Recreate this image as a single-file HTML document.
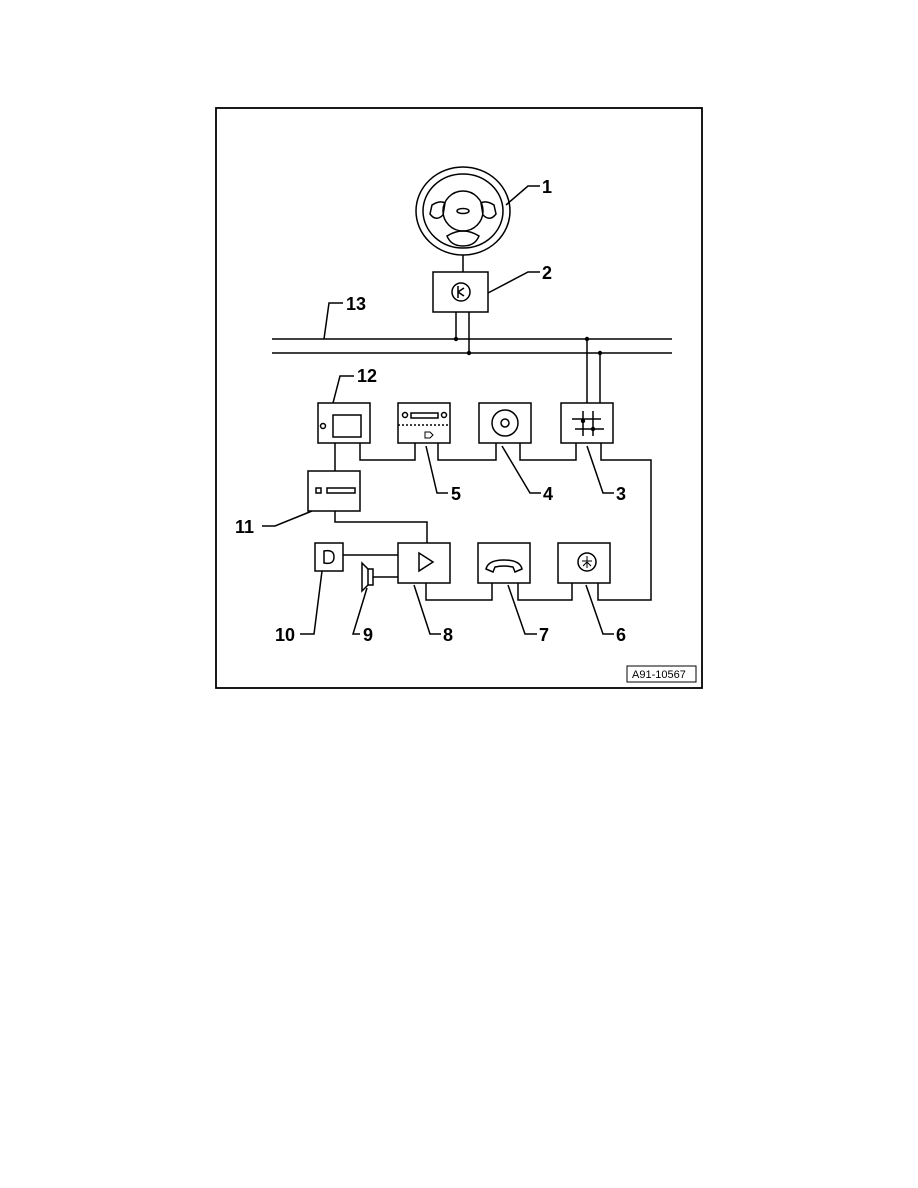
<!DOCTYPE html>
<html><head><style>body{margin:0;background:#fff}svg{display:block}</style></head><body>
<svg width="918" height="1188" viewBox="0 0 918 1188" xmlns="http://www.w3.org/2000/svg" font-family="Liberation Sans, sans-serif">
<g fill="none" stroke="#000" stroke-width="1.5">
<rect x="216" y="108" width="486" height="580" stroke-width="1.8"/>
<ellipse cx="463" cy="211" rx="47" ry="44"/>
<ellipse cx="463" cy="211" rx="40" ry="37"/>
<circle cx="463" cy="211" r="20"/>
<path d="M432 205 Q440 200 445 203 L443 215 Q436 222 430 214 Z"/>
<path d="M494 205 Q486 200 481 203 L483 215 Q490 222 496 214 Z"/>
<path d="M447 236 Q463 226 479 236 Q475 246 463 246 Q451 246 447 236 Z"/>
<ellipse cx="463" cy="211" rx="6" ry="2.5"/>
<line x1="463" y1="255" x2="463" y2="272"/>
<rect x="433" y="272" width="55" height="40"/>
<circle cx="461" cy="292" r="9"/>
<path d="M458 286 V298 M458 292 L464 288 M458 292 L464 296"/>
<line x1="456" y1="312" x2="456" y2="339"/>
<line x1="469" y1="312" x2="469" y2="353"/>
<line x1="272" y1="339" x2="672" y2="339"/>
<line x1="272" y1="353" x2="672" y2="353"/>
<line x1="587" y1="339" x2="587" y2="403"/>
<line x1="600" y1="353" x2="600" y2="403"/>
<rect x="318" y="403" width="52" height="40"/>
<rect x="333" y="415" width="28" height="22"/>
<circle cx="323" cy="426" r="2.5"/>
<rect x="398" y="403" width="52" height="40"/>
<rect x="411" y="413" width="27" height="5"/>
<circle cx="405" cy="415" r="2.5"/><circle cx="444" cy="415" r="2.5"/>
<line x1="398" y1="425" x2="450" y2="425" stroke-dasharray="2,2"/>
<path d="M425 432 h5 l3 3 l-3 3 h-5 z" stroke-width="1"/>
<rect x="479" y="403" width="52" height="40"/>
<circle cx="505" cy="423" r="13"/><circle cx="505" cy="423" r="4"/>
<rect x="561" y="403" width="52" height="40"/>
<path d="M583 411 V436 M593 411 V436 M572 419 H601 M575 429 H604"/>
<polyline points="360,443 360,460 415,460 415,443"/>
<polyline points="438,443 438,460 496,460 496,443"/>
<polyline points="520,443 520,460 576,460 576,443"/>
<polyline points="601,443 601,460 651,460 651,600 598,600 598,583"/>
<line x1="335" y1="443" x2="335" y2="471"/>
<rect x="308" y="471" width="52" height="40"/>
<rect x="316" y="488" width="5" height="5"/>
<rect x="327" y="488" width="28" height="5"/>
<polyline points="335,511 335,522 427,522 427,543"/>
<rect x="398" y="543" width="52" height="40"/>
<path d="M419 553 L433 562 L419 571 Z"/>
<rect x="478" y="543" width="52" height="40"/>
<path d="M486 569 Q488 560 504 560 Q520 560 522 569 L515 572 L513 567 Q504 565 495 567 L493 572 Z"/>
<rect x="558" y="543" width="52" height="40"/>
<circle cx="587" cy="562" r="9"/>
<path d="M587 556 V568 M582 561 L592 561 M587 562 L583 566 M587 562 L591 566" stroke-width="1"/>
<rect x="315" y="543" width="28" height="28"/>
<path d="M324 551 Q334 549 334 557 Q334 565 324 563 Z"/>
<line x1="343" y1="555" x2="398" y2="555"/>
<rect x="368" y="569" width="5" height="16"/>
<path d="M368 569 L362 563 V591 L368 585"/>
<line x1="373" y1="577" x2="398" y2="577"/>
<polyline points="426,583 426,600 492,600 492,583"/>
<polyline points="518,583 518,600 572,600 572,583"/>
<polyline points="506,205 528,186 540,186"/>
<polyline points="488,293 528,272 540,272"/>
<polyline points="324,339 329,303 343,303"/>
<polyline points="333,403 340,376 354,376"/>
<polyline points="426,446 437,493 448,493"/>
<polyline points="502,446 530,493 541,493"/>
<polyline points="587,446 603,493 614,493"/>
<polyline points="262,526 275,526 312,511"/>
<polyline points="322,571 314,634 300,634"/>
<polyline points="367,588 353,634 360,634"/>
<polyline points="414,585 430,634 441,634"/>
<polyline points="508,585 525,634 537,634"/>
<polyline points="586,585 603,634 614,634"/>
<rect x="627" y="666" width="69" height="16" stroke-width="1"/>
</g>
<g fill="#000" stroke="none">
<circle cx="456" cy="339" r="2.2"/><circle cx="469" cy="353" r="2.2"/>
<circle cx="587" cy="339" r="2.2"/><circle cx="600" cy="353" r="2.2"/>
<circle cx="583" cy="421" r="2.2"/><circle cx="593" cy="429" r="2.2"/>
</g>
<g font-size="18" font-weight="bold">
<text x="542" y="193">1</text>
<text x="542" y="279">2</text>
<text x="346" y="310">13</text>
<text x="357" y="382">12</text>
<text x="451" y="500">5</text>
<text x="543" y="500">4</text>
<text x="616" y="500">3</text>
<text x="235" y="533">11</text>
<text x="275" y="641">10</text>
<text x="363" y="641">9</text>
<text x="443" y="641">8</text>
<text x="539" y="641">7</text>
<text x="616" y="641">6</text>
</g>
<text x="632" y="678" font-size="11">A91-10567</text>
</svg>
</body></html>
